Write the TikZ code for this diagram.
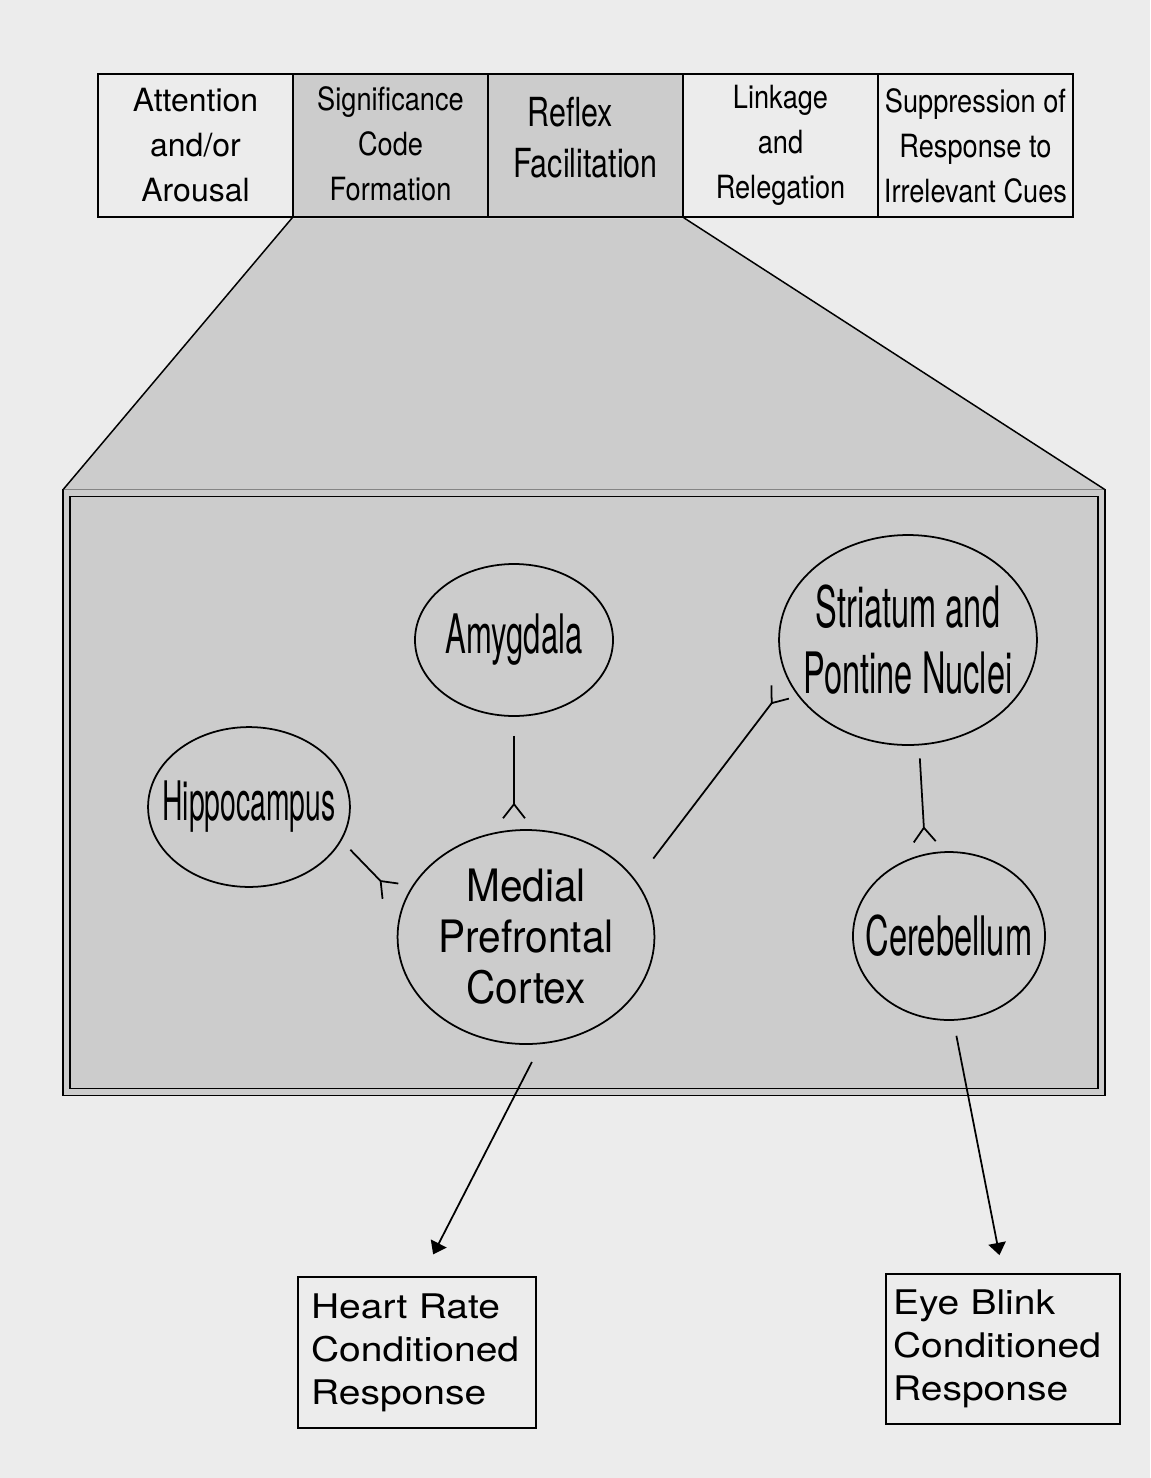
\documentclass[tikz,border=0pt]{standalone}
\usepackage{fontspec}
\setmainfont{TeX Gyre Heros}
\newfontfamily\fTopN[FakeStretch=0.85]{TeX Gyre Heros}
\newfontfamily\fRef[FakeStretch=0.76]{TeX Gyre Heros}
\newfontfamily\fEll[FakeStretch=0.57]{TeX Gyre Heros}
\newfontfamily\fHip[FakeStretch=0.52]{TeX Gyre Heros}
\newfontfamily\fCer[FakeStretch=0.60]{TeX Gyre Heros}
\newfontfamily\fMpc[FakeStretch=0.91]{TeX Gyre Heros}
\newfontfamily\fWide[FakeStretch=1.15]{TeX Gyre Heros}
\usetikzlibrary{arrows.meta,shapes.geometric}
\definecolor{paper}{RGB}{236,236,236}
\definecolor{dots}{RGB}{204,204,204}
\begin{document}
\begin{tikzpicture}[x=0.02cm, y=-0.02cm,
  topbox/.style={draw, line width=0.85pt, minimum width=110.96pt, minimum height=81.37pt,
    inner sep=0pt, align=center, font=\fontsize{18.2}{25.6}\selectfont},
  ell/.style={draw, ellipse, line width=1pt, inner sep=0pt},
  lbl/.style={align=center, inner sep=0pt},
  outbox/.style={draw, line width=0.85pt, inner ysep=0pt, align=left,
    font=\fWide\fontsize{19.3}{24.5}\selectfont},
  syn/.style={line width=1pt, -{Straight Barb[reversed, length=8pt, width=12.5pt]}},
  arr/.style={line width=1pt, -{Triangle[length=7pt, width=10pt]}}
]
\fill[paper] (0,0) rectangle (1150,1478);
\useasboundingbox (0,0) rectangle (1150,1478);

% top row of boxes
\node[topbox] (att) at (195.5,145.5) {Attention\\and/or\\Arousal};
\node[topbox, fill=dots,
  label={[lbl, yshift=1.2pt, font=\fTopN\fontsize{18.2}{25.6}\selectfont]center:Significance\\Code\\Formation}] (sig) at (390.5,145.5) {};
\node[topbox, fill=dots,
  label={[lbl, yshift=4.5pt, font=\fRef\fontsize{22.8}{29}\selectfont]center:Reflex\hspace{17pt}\mbox{}\\Facilitation}] (ref) at (585.5,145.5) {};
\node[topbox, font=\fTopN\fontsize{18.2}{25.6}\selectfont] (lnk) at (780.5,145.5) {Linkage\\and\\Relegation};
\node[topbox, font=\fTopN\fontsize{18.2}{25.6}\selectfont] (sup) at (975.5,145.5) {Suppression of\\Response to\\Irrelevant Cues};

% large frame
\node[draw, double, double distance=2.98pt, line width=1pt, double=dots, fill=dots,
  minimum width=588.9pt, minimum height=340.9pt, inner sep=0pt, outer sep=0pt] (frame) at (584,792.5) {};
\coordinate (tl) at ([shift={(-3.5,-3.5)}]frame.north west);
\coordinate (tr) at ([shift={(3.5,-3.5)}]frame.north east);

% zoom trapezoid
\fill[dots] ([yshift=-0.4pt]sig.south west) -- ([yshift=-0.4pt]ref.south east) -- (tr) -- (tl) -- cycle;
\draw[line width=0.85pt] (sig.south west) -- (tl);
\draw[line width=0.85pt] (ref.south east) -- (tr);
\draw[line width=0.85pt] (sig.south west) -- (ref.south east);

% ellipses
\node[ell, minimum width=112.7pt, minimum height=86.5pt,
  label={[lbl, font=\fEll\fontsize{31}{37.6}\selectfont]center:Amygdala}] (amy) at (514,640) {};
\node[ell, minimum width=146.8pt, minimum height=119.5pt,
  label={[lbl, font=\fEll\fontsize{32.5}{37.6}\selectfont]center:Striatum and\\Pontine Nuclei}] (str) at (908,640) {};
\node[ell, minimum width=114.9pt, minimum height=91pt,
  label={[lbl, font=\fHip\fontsize{31}{37.6}\selectfont]center:Hippocampus}] (hip) at (249,807) {};
\node[ell, minimum width=146.2pt, minimum height=121.8pt,
  label={[lbl, font=\fMpc\fontsize{25.4}{29}\selectfont]center:Medial\\Prefrontal\\Cortex}] (mpc) at (526,937) {};
\node[ell, minimum width=109.3pt, minimum height=95.6pt,
  label={[lbl, font=\fCer\fontsize{31}{37.6}\selectfont]center:Cerebellum}] (cer) at (949,936) {};

% output boxes
\node[outbox, minimum height=85.9pt, text width=120.6pt, inner xsep=7.4pt] (hr) at (417,1352.5) {Heart Rate\\Conditioned\\Response};
\node[outbox, minimum height=85.4pt, text width=125.2pt, inner xsep=4pt] (eye) at (1003,1349) {Eye Blink\\Conditioned\\Response};

% synaptic connectors
\draw[syn, shorten <=10.8pt, shorten >=5.7pt] (amy.south) -- (amy.south |- mpc.north);
\draw[syn, shorten <=7.2pt, shorten >=9.7pt] (hip.-20) -- (mpc.165);
\draw[syn, shorten <=15.9pt, shorten >=7.2pt] (mpc.27) -- (str.199);
\draw[syn, shorten <=7.4pt, shorten >=6.3pt] (str.-84) -- (cer.106);

% output arrows
\draw[arr, shorten <=11.4pt, shorten >=14pt] (mpc.-82) -- ([xshift=2.8pt]hr.north);
\draw[arr, shorten <=8.7pt, shorten >=10.5pt] (cer.-87) -- (eye.north);
\end{tikzpicture}
\end{document}
